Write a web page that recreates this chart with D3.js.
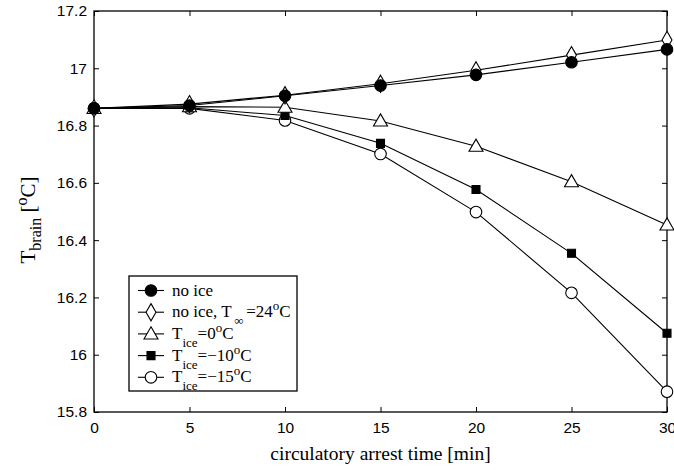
<!DOCTYPE html>
<html>
<head>
<meta charset="utf-8">
<script src="https://cdn.jsdelivr.net/npm/d3@7"></script>
<style>
  html, body { margin: 0; padding: 0; background: #fff; }
  svg { display: block; font-family: "Liberation Serif", "Times New Roman", serif; }
</style>
</head>
<body>
<svg id="chart" width="674" height="471"></svg>
<script>
// Brain temperature during circulatory arrest for several cooling scenarios
const times = [0, 5, 10, 15, 20, 25, 30];
const noIce      = [16.86, 16.870, 16.904, 16.940, 16.977, 17.021, 17.066];
const noIceT24   = [16.86, 16.875, 16.906, 16.946, 16.993, 17.046, 17.099];
const iceZero    = [16.86, 16.866, 16.864, 16.816, 16.728, 16.604, 16.453];
const iceMinus10 = [16.86, 16.862, 16.835, 16.738, 16.577, 16.354, 16.075];
const iceMinus15 = [16.86, 16.860, 16.818, 16.701, 16.498, 16.216, 15.871];
const xTicks = [0, 5, 10, 15, 20, 25, 30];
const yTicks = [15.8, 16, 16.2, 16.4, 16.6, 16.8, 17, 17.2];

const series = [
  { values: noIce,      marker: "circle",   fill: "#000" },
  { values: noIceT24,   marker: "diamond",  fill: "#fff" },
  { values: iceZero,    marker: "triangle", fill: "#fff" },
  { values: iceMinus10, marker: "square",   fill: "#000" },
  { values: iceMinus15, marker: "circle",   fill: "#fff" }
];

const svg = d3.select("#chart");
const m = { left: 94, right: 667, top: 11, bottom: 412 };
const x = d3.scaleLinear().domain([0, 30]).range([m.left, m.right]);
const y = d3.scaleLinear().domain([15.8, 17.2]).range([m.bottom, m.top]);

// Mirrored axes with inward ticks
const tickLen = 5;
function styleAxis(g) {
  g.select(".domain").remove();
  g.selectAll("line").attr("stroke", "#000").attr("stroke-width", 1);
  g.selectAll("text").attr("fill", "#000").style("font-size", "15.5px");
}
svg.append("g").attr("transform", `translate(0,${m.bottom})`)
  .call(d3.axisBottom(x).tickValues(xTicks).tickSizeInner(-tickLen).tickSizeOuter(0).tickPadding(10).tickFormat(d3.format("d")))
  .call(styleAxis);
svg.append("g").attr("transform", `translate(0,${m.top})`)
  .call(d3.axisTop(x).tickValues(xTicks).tickSizeInner(-tickLen).tickSizeOuter(0).tickFormat(""))
  .call(styleAxis);
svg.append("g").attr("transform", `translate(${m.left},0)`)
  .call(d3.axisLeft(y).tickValues(yTicks).tickSizeInner(-tickLen).tickSizeOuter(0).tickPadding(7).tickFormat(d => d3.format("")(+d.toFixed(1))))
  .call(styleAxis);
svg.append("g").attr("transform", `translate(${m.right},0)`)
  .call(d3.axisRight(y).tickValues(yTicks).tickSizeInner(-tickLen).tickSizeOuter(0).tickFormat(""))
  .call(styleAxis);
svg.append("rect")
  .attr("x", m.left).attr("y", m.top)
  .attr("width", m.right - m.left).attr("height", m.bottom - m.top)
  .attr("fill", "none").attr("stroke", "#000").attr("stroke-width", 1.3);

// Marker shapes
const symbolFor = {
  circle: d3.symbol().type(d3.symbolCircle).size(105),
  diamond: d3.symbol().type(d3.symbolDiamond).size(85),
  triangle: d3.symbol().type(d3.symbolTriangle).size(85),
  square: d3.symbol().type(d3.symbolSquare).size(64)
};

const line = d3.line().x((d, i) => x(times[i])).y(d => y(d));
const plot = svg.append("g");
// draw last series first so "no ice" ends on top
series.slice().reverse().forEach(s => {
  plot.append("path").datum(s.values)
    .attr("d", line).attr("fill", "none").attr("stroke", "#000").attr("stroke-width", 1.1);
});
series.slice().reverse().forEach(s => {
  plot.selectAll(null).data(s.values).join("path")
    .attr("d", symbolFor[s.marker])
    .attr("transform", (d, i) => `translate(${x(times[i])},${y(d)})${s.marker === "triangle" ? " translate(0,1)" : ""}`)
    .attr("fill", s.fill).attr("stroke", "#000").attr("stroke-width", 1.1);
});

// Axis titles
svg.append("text")
  .attr("x", (m.left + m.right) / 2).attr("y", 460)
  .attr("text-anchor", "middle").style("font-size", "19.5px")
  .text("circulatory arrest time [min]");

const yTitle = svg.append("text")
  .attr("transform", "translate(35,220) rotate(-90)")
  .attr("text-anchor", "middle").style("font-size", "21px");
yTitle.append("tspan").text("T");
yTitle.append("tspan").attr("dy", 6).style("font-size", "16px").text("brain");
yTitle.append("tspan").attr("dy", -6).text(" [");
yTitle.append("tspan").attr("dy", -8).style("font-size", "16px").text("o");
yTitle.append("tspan").attr("dy", 8).text("C]");

// Legend
const legend = svg.append("g");
legend.append("rect")
  .attr("x", 129).attr("y", 276).attr("width", 168).attr("height", 115)
  .attr("fill", "#fff").attr("stroke", "#000").attr("stroke-width", 1.3);

const labels = [
  [["no ice", 0]],
  [["no ice, T", 0], ["\u2009\u221E\u2009", 8, true], ["=24", -8], ["o", -7, true], ["C", 7]],
  [["T", 0], ["ice", 8, true], ["=0", -8], ["o", -7, true], ["C", 7]],
  [["T", 0], ["ice", 8, true], ["=\u221210", -8], ["o", -7, true], ["C", 7]],
  [["T", 0], ["ice", 8, true], ["=\u221215", -8], ["o", -7, true], ["C", 7]]
];
series.forEach((s, i) => {
  const cy = 290.5 + i * 21.7;
  legend.append("line").attr("x1", 138).attr("x2", 164).attr("y1", cy).attr("y2", cy)
    .attr("stroke", "#000").attr("stroke-width", 1.1);
  legend.append("path").attr("d", symbolFor[s.marker])
    .attr("transform", `translate(151,${cy + (s.marker === "triangle" ? 1 : 0)})`)
    .attr("fill", s.fill).attr("stroke", "#000").attr("stroke-width", 1.1);
  const t = legend.append("text").attr("x", 172).attr("y", cy + 5).style("font-size", "17px");
  labels[i].forEach(([txt, dy, small]) => {
    t.append("tspan").attr("dy", dy).style("font-size", small ? "13px" : "17px").text(txt);
  });
});
</script>
</body>
</html>
